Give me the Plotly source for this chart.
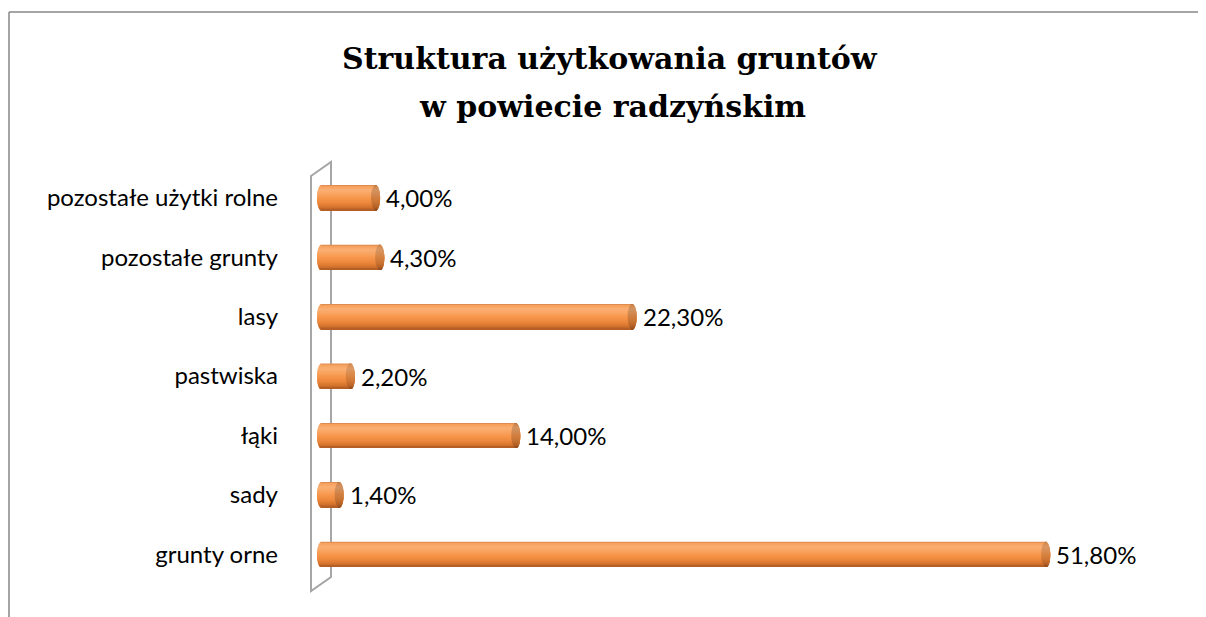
import math
import plotly.graph_objects as go

# ---- data ----
categories = ["grunty orne", "sady", "łąki", "pastwiska", "lasy",
              "pozostałe grunty", "pozostałe użytki rolne"]
values = [51.8, 1.4, 14.0, 2.2, 22.3, 4.3, 4.0]
value_labels = [f"{v:.2f}".replace(".", ",") + "%" for v in values]
title_lines = ["Struktura użytkowania gruntów", "w powiecie radzyńskim"]

# ---- geometry (screen px; page body has an 8px margin) ----
W, H = 1206, 617
OFF = 8
L, R, T, B = 309, 48, 160, 41
PW, PH = W - L - R, H - T - B
PX_PER_UNIT = 14.02
X0 = -0.5
XMAX = X0 + PW / PX_PER_UNIT
CAT_PX = PH / len(categories)


def px(x):
    return (x - OFF - L) / PW


def py(y):
    return (H - B - (y - OFF)) / PH


def hex2rgb(h):
    h = h.lstrip("#")
    return [int(h[i:i + 2], 16) for i in (0, 2, 4)]


stops = [(0.0, "#D0844C"), (1.5, "#F6A05C"), (5.0, "#FAAF74"), (9.0, "#F9A461"),
         (13.0, "#F7964B"), (18.0, "#EC873C"), (22.0, "#D5742D"), (25.0, "#AF5A25")]


def grad(p, dark=1.0):
    for (a, ca), (b, cb) in zip(stops[:-1], stops[1:]):
        if a <= p <= b:
            t = (p - a) / (b - a)
            A, Bc = hex2rgb(ca), hex2rgb(cb)
            c = [int(round((A[i] + (Bc[i] - A[i]) * t) * dark)) for i in range(3)]
            return f"rgb({c[0]},{c[1]},{c[2]})"
    return stops[-1][1]


fig = go.Figure()

BAR_PX = 25
E_PX = 4.5  # half-width of the elliptical ends
for k in range(BAR_PX):
    u = (BAR_PX / 2 - (k + 0.5)) / (BAR_PX / 2)
    s = math.sqrt(max(0.0, 1 - u * u))
    rec = E_PX * (1 - s) / PX_PER_UNIT
    hgt = 1.0 if k == BAR_PX - 1 else 1.6
    off = (BAR_PX / 2 - (k + hgt)) / CAT_PX
    wid = hgt / CAT_PX
    col = grad(k + 0.5)
    starts = [X0 + rec for _ in values]
    fig.add_trace(go.Bar(
        y=categories, x=[v - rec - st for v, st in zip(values, starts)], base=starts,
        orientation="h", width=wid, offset=off,
        marker=dict(color=col, line=dict(width=0)),
        hoverinfo="skip", showlegend=False,
    ))
    # end face (ellipse) of the cylinder
    cen = [v - E_PX / PX_PER_UNIT for v in values]
    half = E_PX * s / PX_PER_UNIT
    fig.add_trace(go.Bar(
        y=categories, x=[2 * half] * len(values), base=[c - half for c in cen],
        orientation="h", width=wid, offset=off,
        marker=dict(color=grad(k + 0.5, 0.84), line=dict(width=0)),
        hoverinfo="skip", showlegend=False,
    ))

# value labels
for c, v, t in zip(categories, values, value_labels):
    fig.add_annotation(x=v, y=c, xref="x", yref="y", text=t, showarrow=False,
                       xanchor="left", yanchor="middle", xshift=4,
                       font=dict(family="Lato", size=24, color="#000000"))

# title lines
fig.add_annotation(x=px(610), y=py(58), xref="paper", yref="paper",
                   text=f"<b>{title_lines[0]}</b>", showarrow=False,
                   xanchor="center", yanchor="middle",
                   font=dict(family="DejaVu Serif", size=30, color="#000000"))
fig.add_annotation(x=px(612), y=py(107), xref="paper", yref="paper",
                   text=f"<b>{title_lines[1]}</b>", showarrow=False,
                   xanchor="center", yanchor="middle",
                   font=dict(family="DejaVu Serif", size=30, color="#000000"))

# chart border (top + left)
fig.add_shape(type="line", xref="paper", yref="paper",
              x0=px(9), y0=py(12), x1=px(W + 20), y1=py(12),
              line=dict(color="#878787", width=1.5))
fig.add_shape(type="line", xref="paper", yref="paper",
              x0=px(9), y0=py(12), x1=px(9), y1=py(H + 20),
              line=dict(color="#878787", width=1.5))

# 3D wall
wall = (f"M {px(311)} {py(176)} L {px(331)} {py(162)} L {px(331)} {py(577)} "
        f"L {px(311)} {py(591)} Z")
fig.add_shape(type="path", xref="paper", yref="paper", path=wall,
              line=dict(color="#A6A6A6", width=2), fillcolor="rgba(0,0,0,0)",
              layer="below")

fig.update_layout(
    width=W, height=H,
    margin=dict(l=L, r=R, t=T, b=B, pad=0),
    paper_bgcolor="white", plot_bgcolor="white",
    barmode="overlay",
    xaxis=dict(range=[X0, XMAX], visible=False, showgrid=False, zeroline=False),
    yaxis=dict(type="category", categoryorder="array", categoryarray=categories,
               range=[-0.5, len(categories) - 0.5],
               showgrid=False, zeroline=False, showline=False, ticks="",
               ticklabelstandoff=38,
               tickfont=dict(family="Lato", size=24, color="#000000")),
)

fig.write_html("out.html")
